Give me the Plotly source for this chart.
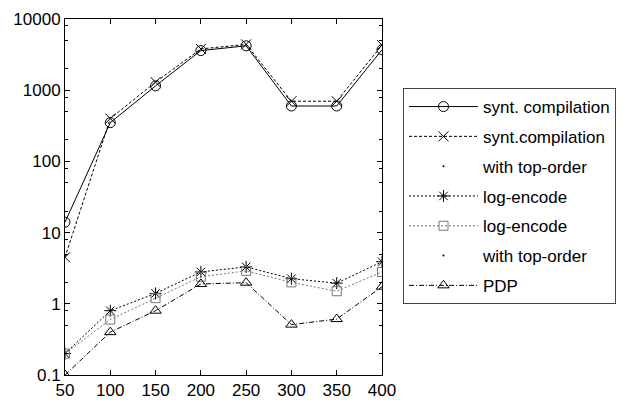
import plotly.graph_objects as go

x_vals = [50, 100, 150, 200, 250, 300, 350, 400]
synt_comp = [14, 350, 1150, 3600, 4200, 600, 600, 3700]
synt_comp_top = [4.5, 400, 1300, 3800, 4400, 700, 700, 4300]
log_enc = [0.2, 0.8, 1.4, 2.8, 3.3, 2.25, 1.95, 3.9]
log_enc_top = [0.2, 0.6, 1.2, 2.4, 2.9, 2.0, 1.5, 2.8]
pdp = [0.1, 0.4, 0.8, 1.9, 1.98, 0.51, 0.61, 1.74]

y_ticks = [0.1, 1, 10, 100, 1000, 10000]
y_ticktext = ["0.1", "1", "10", "100", "1000", "10000"]
y_minor = []
for d in [0.1, 1, 10, 100, 1000]:
    for m in [2, 5, 8]:
        y_minor.append(d * m)

FONT = "Liberation Sans, Arial, Helvetica, sans-serif"

fig = go.Figure()

def add(name, y, dash, color, symbol, size, group):
    fig.add_trace(go.Scatter(
        x=x_vals, y=y, name=name, mode="lines+markers",
        line=dict(color=color, width=1, dash=dash),
        marker=dict(symbol=symbol, size=size, color=color,
                    line=dict(color=color, width=1)),
        legendgroup=group))

def add_dummy(name, group):
    fig.add_trace(go.Scatter(
        x=[None], y=[None], name=name, mode="markers",
        marker=dict(symbol="circle", size=2, color="black"),
        legendgroup=group))

add("synt. compilation", synt_comp, "solid", "black", "circle-open", 10, "g1")
add("synt.compilation", synt_comp_top, "3px,2px", "black", "x-thin-open", 10, "g2")
add_dummy("with top-order", "g3")
add("log-encode", log_enc, "2px,2px", "black", "asterisk-open", 10, "g4")
add("log-encode", log_enc_top, "2px,2px", "#777777", "square-open", 9, "g5")
add_dummy("with top-order", "g6")
add("PDP", pdp, "5px,2px,1px,2px", "black", "triangle-up-open", 10, "g7")

fig.update_layout(
    width=623, height=400,
    margin=dict(l=65, r=241, t=19, b=25, autoexpand=False),
    paper_bgcolor="white", plot_bgcolor="white",
    font=dict(family=FONT, size=17, color="black"),
    showlegend=True,
    legend=dict(
        xref="container", yref="container",
        x=403 / 623, xanchor="left", y=1 - 88 / 400, yanchor="top",
        bordercolor="#444444", borderwidth=1,
        font=dict(family=FONT, size=17, color="black"),
        tracegroupgap=4.7, entrywidth=205, itemwidth=69,
        maxheight=1.0,
        bgcolor="white",
    ),
)
fig.update_xaxes(
    range=[50, 400], tickvals=x_vals, ticks="inside", ticklen=5,
    tickcolor="black", showline=True, linecolor="black", linewidth=1,
    mirror="allticks", showgrid=False, zeroline=False, automargin=False,
    tickfont=dict(size=17),
)
fig.update_yaxes(
    type="log", range=[-1, 4], tickvals=y_ticks, ticktext=y_ticktext,
    ticks="inside", ticklen=5, tickcolor="black", showline=True,
    linecolor="black", linewidth=1, mirror="allticks", showgrid=False,
    zeroline=False, tickfont=dict(size=17), automargin=False,
    minor=dict(tickvals=y_minor, ticks="inside", ticklen=3, tickcolor="black", showgrid=False),
)

fig.write_html("out.html")
